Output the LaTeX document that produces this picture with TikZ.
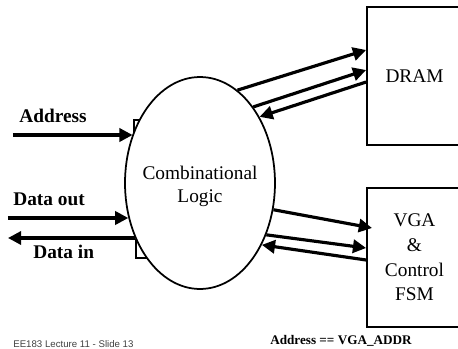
\documentclass[tikz,border=0pt]{standalone}
\usepackage{fontspec}
\setmainfont{Liberation Serif}
\newfontfamily\slidefont{Liberation Sans}
\usetikzlibrary{arrows.meta,shapes.geometric}

\tikzset{
  sig/.style={line width=1.8pt, -{Triangle[length=7.5pt,width=7.5pt]}},
  unit/.style={draw, line width=1pt, minimum width=1.9cm, align=center, font=\fontsize{11}{14}\selectfont},
  pinbox/.style={line width=0.6pt},
  lbl/.style={font=\fontsize{11}{13}\selectfont\bfseries, inner sep=0pt}
}

\begin{document}
\begin{tikzpicture}[x=0.02cm, y=-0.02cm]
% Fix the frame of the slide
\useasboundingbox (0,0) rectangle (458,349);
\clip (0,0) rectangle (458,349);

% Little pads on the left of the logic block
\draw[pinbox] (134,120) rectangle (150,140);
\draw[pinbox] (136,240) rectangle (150,258);

% The logic block and the two units
\node[draw, ellipse, fill=white, line width=1pt, minimum width=3cm, minimum height=4.24cm, inner sep=0pt] (logic) at (200,183) {};
\node[align=center, font=\fontsize{11}{13}\selectfont] (logictxt) at (200,186) {Combinational\\Logic};
\node[unit, minimum height=2.76cm] (dram) at (414.5,76) {DRAM};
\node[unit, minimum height=2.78cm] (vga) at (414.5,257.5) {VGA\\\&\\Control\\FSM};

% Signals on the left
\coordinate (addr) at (13,135);
\coordinate (dout) at (8,218);
\coordinate (din) at (8,238);
\draw[sig] (addr) -- (addr -| logic.144.4);
\draw[sig] (dout) -- (dout -| logic.206.6);
\draw[sig] (din -| logic.221) -- (din);
\node[lbl, anchor=base west] (addrlbl) at (19,122) {Address};
\node[lbl, anchor=base west] (doutlbl) at (13,205) {Data out};
\node[lbl, anchor=base west] (dinlbl) at (33,258) {Data in};

% Logic <-> DRAM
\draw[sig] (logic.68) -- (dram.west |- 0,50);
\draw[sig] (logic.55) -- (dram.west |- 0,70);
\draw[sig] (dram.west |- 0,82) -- (logic.48);

% Logic <-> VGA
\coordinate (vtip) at (372,228);
\draw[sig] (logic.340) -- (vtip);
\draw[sig] (logic.322.4) -- (vga.west |- 0,248);
\draw[sig] (vga.west |- 0,260) -- (logic.315);

\node[font=\fontsize{7.5}{9}\selectfont\bfseries, anchor=base, inner sep=0pt] (cond) at (341,344) {Address == VGA\_ADDR};
\node[font=\slidefont\fontsize{5.5}{7}\selectfont, anchor=base west, inner sep=0pt, text=black!75] (foot) at (13,347) {EE183 Lecture 11 - Slide 13};
\end{tikzpicture}
\end{document}
